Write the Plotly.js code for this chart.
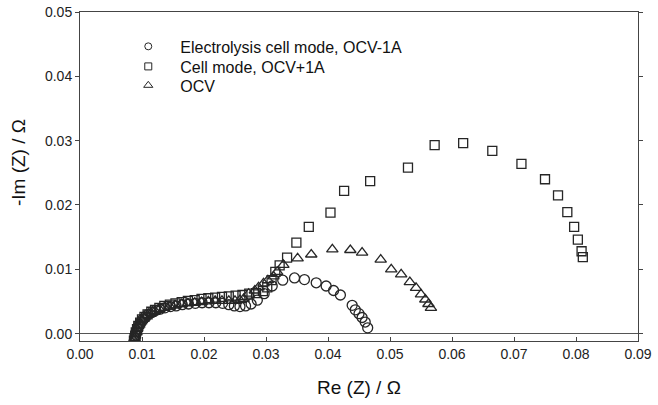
<!DOCTYPE html>
<html>
<head>
<meta charset="utf-8">
<script src="https://cdn.plot.ly/plotly-3.0.1.min.js"></script>
<style>
  html, body { margin: 0; padding: 0; background: #fff; }
  #chart { width: 658px; height: 405px; }
</style>
</head>
<body>
<div id="chart"></div>
<script>
// Nyquist plots: Re(Z) vs -Im(Z), in ohm

// Electrolysis cell mode, OCV-1A
const reElec = [0.0088, 0.0089, 0.0090, 0.0091, 0.0093, 0.0095, 0.0098, 0.0101, 0.0105, 0.0110,
  0.0116, 0.0122, 0.0129, 0.0137, 0.0146, 0.0155, 0.0165, 0.0175, 0.0186, 0.0197,
  0.0208, 0.0219, 0.0230, 0.0240, 0.0249, 0.0258, 0.0267, 0.0276, 0.0286, 0.0297,
  0.0310, 0.0327, 0.0346, 0.0362, 0.0381, 0.0397, 0.0409, 0.0420, 0.0439, 0.0444,
  0.0450, 0.0455, 0.0460, 0.0464];
const imElec = [-0.0010, -0.0006, -0.0002, 0.0003, 0.0008, 0.0013, 0.0018, 0.0022, 0.0026, 0.0030,
  0.0033, 0.0036, 0.0038, 0.0040, 0.0042, 0.0043, 0.0045, 0.0046, 0.0047, 0.0048,
  0.0048, 0.0048, 0.0047, 0.0045, 0.0043, 0.0042, 0.0043, 0.0046, 0.0052, 0.0062,
  0.0074, 0.0083, 0.00865, 0.0084, 0.0079, 0.0074, 0.0067, 0.0060, 0.0044, 0.0037,
  0.0031, 0.0025, 0.0018, 0.0009];

// Cell mode, OCV+1A
const reCell = [0.0087, 0.0088, 0.0089, 0.0090, 0.0092, 0.0094, 0.0097, 0.0100, 0.0104, 0.0109,
  0.0115, 0.0121, 0.0128, 0.0136, 0.0145, 0.0154, 0.0164, 0.0174, 0.0185, 0.0196,
  0.0207, 0.0218, 0.0229, 0.0240, 0.0251, 0.0262, 0.0273, 0.0284, 0.0295, 0.0302,
  0.0309, 0.0315, 0.0322, 0.0334, 0.0349, 0.0369, 0.0404, 0.0426, 0.0468, 0.0529,
  0.0572, 0.0618, 0.0665, 0.0712, 0.0750, 0.0771, 0.0786, 0.0797, 0.0803, 0.0809,
  0.0811];
const imCell = [-0.0011, -0.0007, -0.0003, 0.0002, 0.0007, 0.0012, 0.0017, 0.0022, 0.0026, 0.0030,
  0.0034, 0.0037, 0.0040, 0.0043, 0.0045, 0.0047, 0.0049, 0.0051, 0.0052, 0.0054,
  0.0055, 0.0056, 0.0057, 0.0058, 0.0059, 0.0060, 0.0062, 0.0063, 0.0066, 0.0072,
  0.0083, 0.0096, 0.0106, 0.0118, 0.01415, 0.0166, 0.0188, 0.0222, 0.0237, 0.0258,
  0.0293, 0.0296, 0.0284, 0.0264, 0.0240, 0.0215, 0.0189, 0.0166, 0.0146, 0.0128,
  0.0119];

// OCV
const reOcv = [0.0087, 0.0088, 0.0089, 0.0091, 0.0092, 0.0094, 0.0097, 0.0100, 0.0104, 0.0109,
  0.0115, 0.0121, 0.0128, 0.0136, 0.0145, 0.0154, 0.0164, 0.0174, 0.0185, 0.0196,
  0.0207, 0.0218, 0.0229, 0.0240, 0.0250, 0.0258, 0.0264, 0.0272, 0.0282, 0.0288,
  0.0296, 0.0303, 0.0312, 0.0318, 0.0328, 0.0351, 0.0373, 0.0407, 0.0436, 0.0455,
  0.0485, 0.0502, 0.0518, 0.0532, 0.0542, 0.0550, 0.0557, 0.0562, 0.0566];
const imOcv = [-0.0011, -0.0007, -0.0003, 0.0002, 0.0007, 0.0012, 0.0017, 0.0021, 0.0025, 0.0029,
  0.0032, 0.0035, 0.0038, 0.0040, 0.0042, 0.0044, 0.0046, 0.0047, 0.0048, 0.0049,
  0.0050, 0.0051, 0.0051, 0.0051, 0.0051, 0.0052, 0.0054, 0.0062, 0.0067, 0.0072,
  0.0078, 0.0083, 0.0089, 0.0096, 0.0107, 0.0117, 0.0123, 0.0131, 0.0130, 0.0126,
  0.0115, 0.0100, 0.0092, 0.0080, 0.0071, 0.0061, 0.0053, 0.0046, 0.0040];

const seriesNames = ['Electrolysis cell mode, OCV-1A', 'Cell mode, OCV+1A', 'OCV'];
const xTitle = 'Re (Z) / \u03A9';
const yTitle = '-Im (Z) / \u03A9';

const ink = '#262626';
const fontFamily = '"Liberation Sans", Arial, sans-serif';

function dataTrace(x, y, symbol, size, name) {
  return {
    type: 'scatter', mode: 'markers', x: x, y: y, name: name,
    legendgroup: name, showlegend: false, hoverinfo: 'x+y',
    marker: { symbol: symbol, size: size, color: ink, line: { color: ink, width: 1.3 } }
  };
}
// smaller symbols for the key, one key entry per legend box
function keyTrace(symbol, size, name, legendId) {
  return {
    type: 'scatter', mode: 'markers', x: [null], y: [null], name: name,
    legendgroup: name, showlegend: true, legend: legendId,
    marker: { symbol: symbol, size: size, color: ink, line: { color: ink, width: 1 } }
  };
}

const traces = [
  dataTrace(reOcv, imOcv, 'triangle-up-open', 10, seriesNames[2]),
  dataTrace(reCell, imCell, 'square-open', 9, seriesNames[1]),
  dataTrace(reElec, imElec, 'circle-open', 10, seriesNames[0]),
  keyTrace('circle-open', 7, seriesNames[0], 'legend'),
  keyTrace('square-open', 7, seriesNames[1], 'legend2'),
  keyTrace('triangle-up-open', 8, seriesNames[2], 'legend3')
];

function keyBox(yPos) {
  return {
    x: 0.065, y: yPos, xanchor: 'left', yanchor: 'top',
    bgcolor: 'rgba(0,0,0,0)', borderwidth: 0,
    font: { family: fontFamily, size: 16, color: '#111' },
    itemwidth: 54
  };
}

const layout = {
  width: 658, height: 405,
  margin: { l: 80, r: 20, t: 12, b: 64 },
  paper_bgcolor: '#fff', plot_bgcolor: '#fff',
  font: { family: fontFamily, size: 14, color: '#222' },
  showlegend: true,
  legend: keyBox(0.947),
  legend2: keyBox(0.886),
  legend3: keyBox(0.8285),
  xaxis: {
    range: [0, 0.09], dtick: 0.01, tick0: 0, tickformat: '.2f',
    showgrid: false, zeroline: false,
    showline: true, linecolor: '#444', linewidth: 1, mirror: true,
    ticks: 'inside', ticklen: 4, tickcolor: '#444', tickwidth: 1,
    tickfont: { family: fontFamily, size: 14, color: '#222' }
  },
  yaxis: {
    range: [-0.00115, 0.05], dtick: 0.01, tick0: 0, tickformat: '.2f',
    showgrid: false, zeroline: true, zerolinecolor: '#555', zerolinewidth: 1,
    showline: true, linecolor: '#444', linewidth: 1, mirror: 'ticks',
    ticks: 'outside', ticklen: 4, tickcolor: '#444', tickwidth: 1,
    tickfont: { family: fontFamily, size: 14, color: '#222' }
  },
  annotations: [
    { text: xTitle, xref: 'paper', yref: 'paper', x: 0.5, y: -0.142,
      xanchor: 'center', yanchor: 'middle', showarrow: false,
      font: { family: fontFamily, size: 19, color: '#111' } },
    { text: yTitle, xref: 'paper', yref: 'paper', x: -0.111, y: 0.541, textangle: -90,
      xanchor: 'center', yanchor: 'middle', showarrow: false,
      font: { family: fontFamily, size: 19, color: '#111' } }
  ]
};

Plotly.newPlot('chart', traces, layout, { staticPlot: true, displayModeBar: false });
</script>
</body>
</html>
